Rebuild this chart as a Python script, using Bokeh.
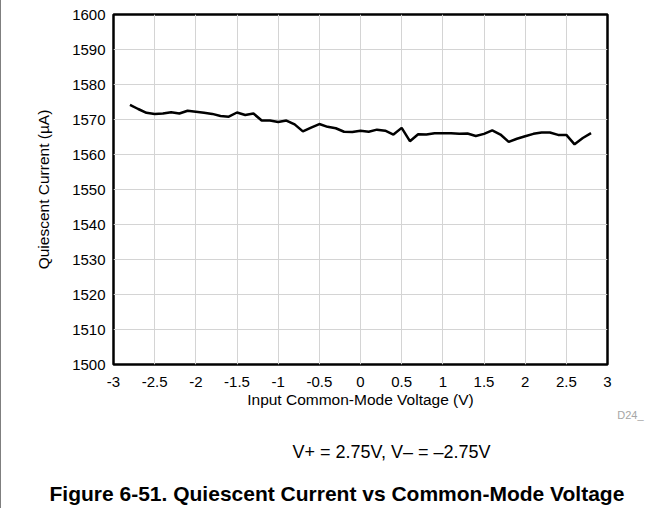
from bokeh.plotting import figure
from bokeh.models import Title, FixedTicker, CustomJSTickFormatter
from bokeh.embed import file_html
from bokeh.resources import INLINE

# ---- data ----
vcm = [-2.8, -2.7, -2.6, -2.5, -2.4, -2.3, -2.2, -2.1, -2.0, -1.9, -1.8, -1.7,
       -1.6, -1.5, -1.4, -1.3, -1.2, -1.1, -1.0, -0.9, -0.8, -0.7, -0.6, -0.5,
       -0.4, -0.3, -0.2, -0.1, 0.0, 0.1, 0.2, 0.3, 0.4, 0.5, 0.6, 0.7, 0.8,
       0.9, 1.0, 1.1, 1.2, 1.3, 1.4, 1.5, 1.6, 1.7, 1.8, 1.9, 2.0, 2.1, 2.2,
       2.3, 2.4, 2.5, 2.6, 2.7, 2.8]
iq = [1574.2, 1573.0, 1571.9, 1571.6, 1571.7, 1572.1, 1571.7, 1572.5, 1572.2,
      1571.9, 1571.6, 1571.0, 1570.8, 1572.0, 1571.3, 1571.7, 1569.7, 1569.7,
      1569.3, 1569.7, 1568.6, 1566.6, 1567.7, 1568.7, 1567.9, 1567.5, 1566.5,
      1566.4, 1566.8, 1566.5, 1567.1, 1566.8, 1565.7, 1567.6, 1563.8, 1565.8,
      1565.7, 1566.1, 1566.1, 1566.1, 1565.9, 1566.0, 1565.3, 1565.9, 1566.9,
      1565.7, 1563.6, 1564.5, 1565.2, 1565.9, 1566.3, 1566.3, 1565.6, 1565.6,
      1562.9, 1564.7, 1566.1]
x_ticks = [-3, -2.5, -2, -1.5, -1, -0.5, 0, 0.5, 1, 1.5, 2, 2.5, 3]
y_ticks = [1500, 1510, 1520, 1530, 1540, 1550, 1560, 1570, 1580, 1590, 1600]

x_title = "Input Common-Mode Voltage (V)"
y_title = "Quiescent Current (\u00b5A)"
caption = "V+ = 2.75V, V\u2013 = \u20132.75V"
fig_title = "Figure 6-51. Quiescent Current vs Common-Mode Voltage"
code = "D24_"

FONT = "Liberation Sans"

W, H = 648, 512
p = figure(width=W, height=H, output_backend="svg", toolbar_location=None,
           x_range=(-3, 3), y_range=(1500, 1600),
           min_border_left=112, min_border_right=42,
           min_border_top=17, min_border_bottom=145,
           styles={"border-top": "1.5px solid #7f7f7f",
                   "border-left": "1.5px solid #7f7f7f",
                   "margin-top": "-4px"})
p.background_fill_color = "white"
p.border_fill_color = "white"
p.outline_line_color = "black"
p.outline_line_width = 2.5

p.xaxis.ticker = FixedTicker(ticks=x_ticks)
p.yaxis.ticker = FixedTicker(ticks=y_ticks)
p.xaxis.formatter = CustomJSTickFormatter(code="return String(tick);")
for ax in (p.xaxis[0], p.yaxis[0]):
    ax.axis_line_color = None
    ax.major_tick_line_color = None
    ax.minor_tick_line_color = None
    ax.major_tick_out = 0
    ax.major_tick_in = 0
    ax.minor_tick_out = 0
    ax.minor_tick_in = 0
    ax.major_label_text_font = FONT
    ax.major_label_text_font_size = "15px"
    ax.major_label_text_color = "black"
    ax.axis_label_text_font = FONT
    ax.axis_label_text_font_size = "15.5px"
    ax.axis_label_text_font_style = "normal"
    ax.axis_label_text_color = "black"
p.xaxis.axis_label = x_title
p.yaxis.axis_label = y_title
p.xaxis.major_label_standoff = 12
p.yaxis.major_label_standoff = 8
p.xaxis.axis_label_standoff = 1
p.yaxis.axis_label_standoff = 17

p.xgrid.grid_line_color = "#d4d4d4"
p.ygrid.grid_line_color = "#d4d4d4"
p.xgrid.grid_line_width = 1
p.ygrid.grid_line_width = 1

p.line(vcm, iq, line_color="black", line_width=2.5)

# texts below the chart, stacked under the x axis
p.add_layout(Title(text=code, align="right", offset=-36, standoff=-6,
                   vertical_align="middle", text_font=FONT,
                   text_font_size="11px", text_font_style="normal",
                   text_color="#a6a6a6"), "below")
p.add_layout(Title(text=caption, align="left", offset=179, standoff=45,
                   vertical_align="middle", text_font=FONT,
                   text_font_size="18px", text_font_style="normal",
                   text_color="black"), "below")
p.add_layout(Title(text=fig_title, align="left", offset=-64, standoff=-10,
                   vertical_align="middle", text_font=FONT,
                   text_font_size="21px", text_font_style="bold",
                   text_color="black"), "below")

open("out.html", "w").write(file_html(p, INLINE))
